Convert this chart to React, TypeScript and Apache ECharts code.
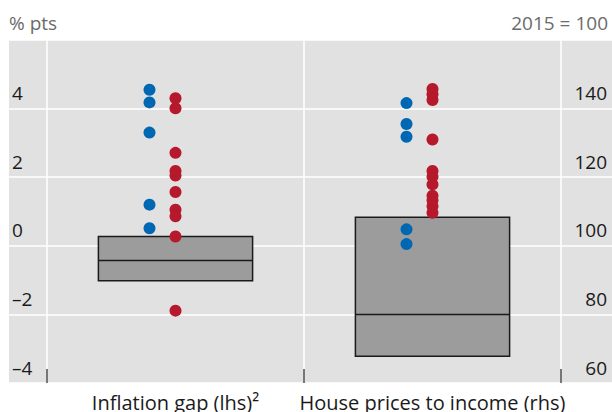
import React, { useEffect, useRef } from "react";
import * as echarts from "echarts";

const categories = ["Inflation gap (lhs)²", "House prices to income (rhs)"];
// box: [lower quartile, median, upper quartile]
const inflationBox = [-1.02, -0.43, 0.27];
const houseBox = [67.8, 80, 108.3];
const inflationBlue = [4.55, 4.18, 3.3, 1.2, 0.51];
const inflationRed = [4.3, 4.01, 2.71, 2.18, 2.05, 1.57, 1.05, 0.86, 0.27, -1.89];
const houseBlue = [141.6, 135.5, 131.8, 104.8, 100.5];
const houseRed = [145.7, 144.2, 142.5, 131.0, 121.8, 120.1, 117.9, 114.6, 113.3, 111.5, 109.6];
const lhsTicks = { min: -4, max: 6, interval: 2 };
const rhsTicks = { min: 60, max: 160, interval: 20 };

const FONT = "Open Sans";
const BLUE = "#0068b3";
const RED = "#b5192b";

export default function App() {
  const ref = useRef<HTMLDivElement>(null);
  useEffect(() => {
    if (!ref.current) return;
    const chart = echarts.init(ref.current, null, { renderer: "svg" });
    const boxRender = (params: any, api: any) => {
      const cat = api.value(0);
      const lo = api.coord([cat, api.value(1)]);
      const med = api.coord([cat, api.value(2)]);
      const hi = api.coord([cat, api.value(3)]);
      const w = api.size([1, 0])[0] * 0.6;
      const x0 = lo[0] - w / 2;
      return {
        type: "group",
        children: [
          {
            type: "rect",
            shape: { x: x0, y: hi[1], width: w, height: lo[1] - hi[1] },
            style: { fill: "#9c9c9c", stroke: "#1a1a1a", lineWidth: 1.5 },
          },
          {
            type: "line",
            shape: { x1: x0, y1: med[1], x2: x0 + w, y2: med[1] },
            style: { stroke: "#1a1a1a", lineWidth: 1.5 },
          },
        ],
      };
    };
    const dash = (v: number) => String(v).replace("-", "\u2013");
    const option: any = {
      animation: false,
      textStyle: { fontFamily: FONT },
      grid: [
        { left: 9, right: 0, top: 40, bottom: 29, show: true, backgroundColor: "#e1e1e1", borderWidth: 0 },
        { left: 47, right: 51, top: 40, bottom: 29 },
      ],
      graphic: [
        { type: "text", left: 9, top: 13, style: { text: "% pts", fontFamily: FONT, fontSize: 19, fill: "#6b6b6b" } },
        { type: "text", right: 4, top: 13, style: { text: "2015 = 100", fontFamily: FONT, fontSize: 19, fill: "#6b6b6b" } },
      ],
      xAxis: [
        { type: "value", gridIndex: 0, show: false, min: 0, max: 1 },
        {
          type: "category",
          gridIndex: 1,
          position: "bottom",
          data: categories,
          axisLine: { show: false, onZero: false },
          axisTick: { show: true, inside: true, length: 14, lineStyle: { color: "#4d4d4d", width: 1.5 } },
          splitLine: { show: true, lineStyle: { color: "#ffffff", width: 1.5 } },
          axisLabel: { interval: 0, margin: 9, fontSize: 20, color: "#1a1a1a", fontFamily: FONT },
        },
      ],
      yAxis: [
        {
          type: "value",
          gridIndex: 0,
          position: "left",
          ...lhsTicks,
          axisLine: { show: false },
          axisTick: { show: false },
          splitLine: { show: true, lineStyle: { color: "#ffffff", width: 1.5 } },
          axisLabel: {
            inside: true,
            margin: 3,
            verticalAlign: "bottom",
            padding: [0, 0, 6, 0],
            showMaxLabel: false,
            fontSize: 19,
            color: "#1a1a1a",
            fontFamily: FONT,
            formatter: dash,
          },
        },
        {
          type: "value",
          gridIndex: 0,
          position: "right",
          ...rhsTicks,
          axisLine: { show: false },
          axisTick: { show: false },
          splitLine: { show: false },
          axisLabel: {
            inside: true,
            margin: 5,
            verticalAlign: "bottom",
            padding: [0, 0, 6, 0],
            showMaxLabel: false,
            fontSize: 19,
            color: "#1a1a1a",
            fontFamily: FONT,
          },
        },
        { type: "value", gridIndex: 1, position: "left", ...lhsTicks, show: false, splitLine: { show: false } },
        { type: "value", gridIndex: 1, position: "right", ...rhsTicks, show: false, splitLine: { show: false } },
      ],
      series: [
        {
          type: "custom",
          xAxisIndex: 1,
          yAxisIndex: 2,
          renderItem: boxRender,
          data: [[0, ...inflationBox]],
          z: 2,
        },
        {
          type: "custom",
          xAxisIndex: 1,
          yAxisIndex: 3,
          renderItem: boxRender,
          data: [[1, ...houseBox]],
          z: 2,
        },
        {
          type: "scatter",
          xAxisIndex: 1,
          yAxisIndex: 2,
          symbolSize: 12,
          symbolOffset: [-26, 0],
          itemStyle: { color: BLUE, opacity: 1 },
          data: inflationBlue.map((v) => [0, v]),
          z: 3,
        },
        {
          type: "scatter",
          xAxisIndex: 1,
          yAxisIndex: 2,
          symbolSize: 12,
          itemStyle: { color: RED, opacity: 1 },
          data: inflationRed.map((v) => [0, v]),
          z: 3,
        },
        {
          type: "scatter",
          xAxisIndex: 1,
          yAxisIndex: 3,
          symbolSize: 12,
          symbolOffset: [-26, 0],
          itemStyle: { color: BLUE, opacity: 1 },
          data: houseBlue.map((v) => [1, v]),
          z: 3,
        },
        {
          type: "scatter",
          xAxisIndex: 1,
          yAxisIndex: 3,
          symbolSize: 12,
          itemStyle: { color: RED, opacity: 1 },
          data: houseRed.map((v) => [1, v]),
          z: 3,
        },
      ],
    };
    chart.setOption(option);
    return () => chart.dispose();
  }, []);
  return (
    <div
      ref={ref}
      style={{ position: "absolute", left: 0, top: 0, width: 612, height: 412 }}
    />
  );
}
